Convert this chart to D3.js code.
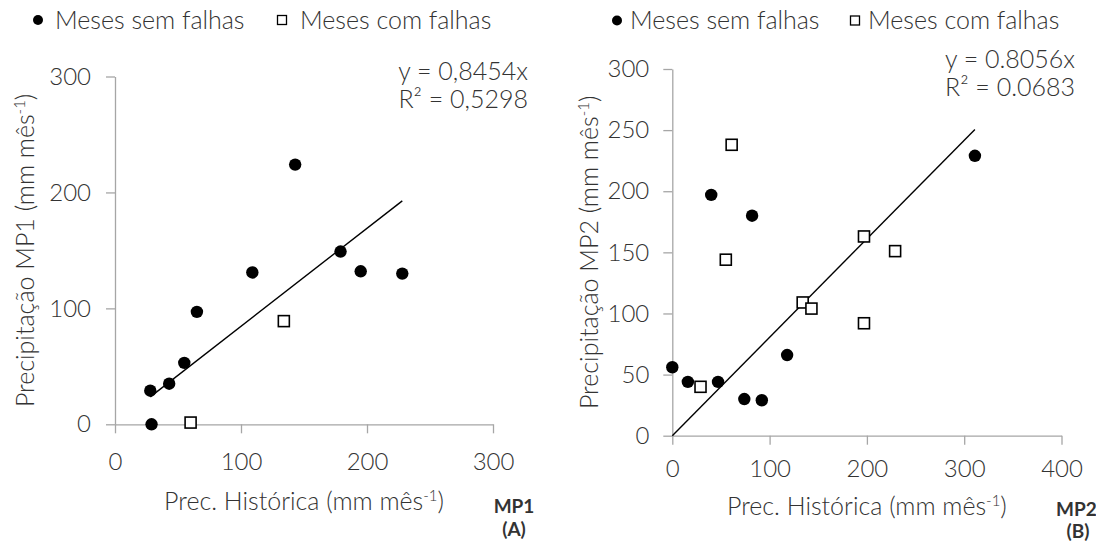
<!DOCTYPE html>
<html>
<head>
<meta charset="utf-8">
<script src="https://cdn.jsdelivr.net/npm/d3@7"></script>
<style>
  body { margin: 0; background: #fff; }
  svg { display: block; }
  text { font-family: Lato, "Open Sans", sans-serif; fill: #333333; font-weight: 300; }
</style>
</head>
<body>
<svg id="chart" width="1096" height="545"></svg>
<script>
// ---- MP1 (A): historical vs. observed monthly precipitation ----
const mp1SemFalhasHist = [28, 29, 43, 55, 65, 109, 143, 179, 195, 228];
const mp1SemFalhasObs  = [29, 0, 35, 53, 97, 131, 224, 149, 132, 130];
const mp1ComFalhasHist = [60, 134];
const mp1ComFalhasObs  = [1.5, 89];
const mp1Slope = 0.8454;
const mp1Equation = ["y = 0,8454x", "R² = 0,5298"];
const mp1XTicks = [0, 100, 200, 300];
const mp1YTicks = [0, 100, 200, 300];

// ---- MP2 (B) ----
const mp2SemFalhasHist = [0, 16, 40, 47, 74, 82, 92, 118, 311];
const mp2SemFalhasObs  = [56, 44, 197, 44, 30, 180, 29, 66, 229];
const mp2ComFalhasHist = [29, 55, 61, 134, 143, 197, 197, 229];
const mp2ComFalhasObs  = [40, 144, 238, 109, 104, 163, 92, 151];
const mp2Slope = 0.8056;
const mp2Equation = ["y = 0.8056x", "R² = 0.0683"];
const mp2XTicks = [0, 100, 200, 300, 400];
const mp2YTicks = [0, 50, 100, 150, 200, 250, 300];

const legendLabels = ["Meses sem falhas", "Meses com falhas"];
const xTitle = "Prec. Histórica (mm mês";
const superscript = "-1";

const svg = d3.select("#chart");
const axisColor = "#a6a6a6";
const tickFont = 24;
const textFont = 25;

function drawPanel(p) {
  const g = svg.append("g");
  const x = d3.scaleLinear().domain(p.xDomain).range(p.xRange);
  const y = d3.scaleLinear().domain(p.yDomain).range(p.yRange);

  // axes
  const xAxis = d3.axisBottom(x).tickValues(p.xTicks).tickSize(9).tickSizeOuter(0)
    .tickPadding(p.xPad).tickFormat(d3.format("d"));
  const yAxis = d3.axisLeft(y).tickValues(p.yTicks).tickSize(9).tickSizeOuter(0)
    .tickPadding(p.yPad).tickFormat(d3.format("d"));

  const gx = g.append("g").attr("transform", `translate(0,${y(0)})`).call(xAxis);
  const gy = g.append("g").attr("transform", `translate(${x(0)},0)`).call(yAxis);
  [gx, gy].forEach(a => {
    a.select(".domain").attr("stroke", axisColor).attr("stroke-width", 1.3);
    a.selectAll(".tick line").attr("stroke", axisColor).attr("stroke-width", 1.3);
    a.selectAll(".tick text").attr("font-size", tickFont).attr("fill", "#333333")
      .style("font-family", "Lato, 'Open Sans', sans-serif").style("font-weight", 300);
  });

  // trend line through the origin
  const allX = p.semHist.concat(p.comHist);
  const ext = d3.extent(allX);
  const line = d3.line().x(d => x(d)).y(d => y(d * p.slope));
  g.append("path").datum(ext).attr("d", line)
    .attr("fill", "none").attr("stroke", "#000").attr("stroke-width", 1.4);

  // months without gaps: filled circles
  g.selectAll(".sem").data(p.semHist).join("circle")
    .attr("cx", d => x(d)).attr("cy", (d, i) => y(p.semObs[i]))
    .attr("r", 6.2).attr("fill", "#000");

  // months with gaps: open squares
  const s = 11;
  g.selectAll(".com").data(p.comHist).join("rect")
    .attr("x", d => x(d) - s / 2).attr("y", (d, i) => y(p.comObs[i]) - s / 2)
    .attr("width", s).attr("height", s)
    .attr("fill", "#fff").attr("stroke", "#000").attr("stroke-width", 1.6);

  // legend
  g.append("circle").attr("cx", p.legend[0]).attr("cy", p.legendY).attr("r", 5).attr("fill", "#000");
  g.append("text").attr("x", p.legend[1]).attr("y", p.legendY + 8.5)
    .attr("font-size", textFont).text(legendLabels[0]);
  g.append("rect").attr("x", p.legend[2] - 4.5).attr("y", p.legendY - 4.5)
    .attr("width", 9).attr("height", 9).attr("fill", "#fff")
    .attr("stroke", "#000").attr("stroke-width", 1.3);
  g.append("text").attr("x", p.legend[3]).attr("y", p.legendY + 8.5)
    .attr("font-size", textFont).text(legendLabels[1]);

  // regression equation
  p.equation.forEach((t, i) => {
    g.append("text").attr("x", p.eqX).attr("y", p.eqY[i]).attr("text-anchor", "end")
      .attr("font-size", textFont).text(t);
  });

  // x title
  const xt = g.append("text").attr("x", (p.xRange[0] + p.xRange[1]) / 2).attr("y", p.xTitleY)
    .attr("text-anchor", "middle").attr("font-size", textFont);
  xt.append("tspan").text(xTitle);
  xt.append("tspan").attr("font-size", 15).attr("dy", -9).text(superscript);
  xt.append("tspan").attr("dy", 9).text(")");

  // y title
  const cy = (p.yRange[0] + p.yRange[1]) / 2;
  const yt = g.append("text").attr("transform", `translate(${p.yTitleX},${cy}) rotate(-90)`)
    .attr("text-anchor", "middle").attr("font-size", textFont).attr("dy", "0.35em");
  yt.append("tspan").text(p.yTitle);
  yt.append("tspan").attr("font-size", 15).attr("dy", -9).text(superscript);
  yt.append("tspan").attr("dy", 9).text(")");

  // panel tag
  g.append("text").attr("x", p.tagX).attr("y", p.tagY[0]).attr("text-anchor", p.tagAnchor)
    .attr("font-size", 19).style("font-weight", "bold").attr("fill", "#000").text(p.tag[0]);
  g.append("text").attr("x", p.tagX2).attr("y", p.tagY[1]).attr("text-anchor", "middle")
    .attr("font-size", 19).style("font-weight", "bold").attr("fill", "#000").text(p.tag[1]);
}

drawPanel({
  xDomain: [0, 300], xRange: [115, 493],
  yDomain: [0, 300], yRange: [424.3, 76.5],
  xTicks: mp1XTicks, yTicks: mp1YTicks, xPad: 20, yPad: 15,
  semHist: mp1SemFalhasHist, semObs: mp1SemFalhasObs,
  comHist: mp1ComFalhasHist, comObs: mp1ComFalhasObs,
  slope: mp1Slope, equation: mp1Equation, eqX: 528, eqY: [80, 108],
  legend: [38, 55, 282, 300], legendY: 20,
  xTitleY: 510, yTitleX: 25, yTitle: "Precipitação MP1 (mm mês",
  tag: ["MP1", "(A)"], tagX: 514, tagX2: 514, tagAnchor: "middle", tagY: [513, 536]
});

drawPanel({
  xDomain: [0, 400], xRange: [672.3, 1061.5],
  yDomain: [0, 300], yRange: [435.7, 69],
  xTicks: mp2XTicks, yTicks: mp2YTicks, xPad: 15, yPad: 14,
  semHist: mp2SemFalhasHist, semObs: mp2SemFalhasObs,
  comHist: mp2ComFalhasHist, comObs: mp2ComFalhasObs,
  slope: mp2Slope, equation: mp2Equation, eqX: 1075, eqY: [68, 96],
  legend: [617, 630, 855, 868], legendY: 20.5,
  xTitleY: 515, yTitleX: 589, yTitle: "Precipitação MP2 (mm mês",
  tag: ["MP2", "(B)"], tagX: 1056, tagX2: 1078, tagAnchor: "start", tagY: [516, 538]
});
</script>
</body>
</html>
